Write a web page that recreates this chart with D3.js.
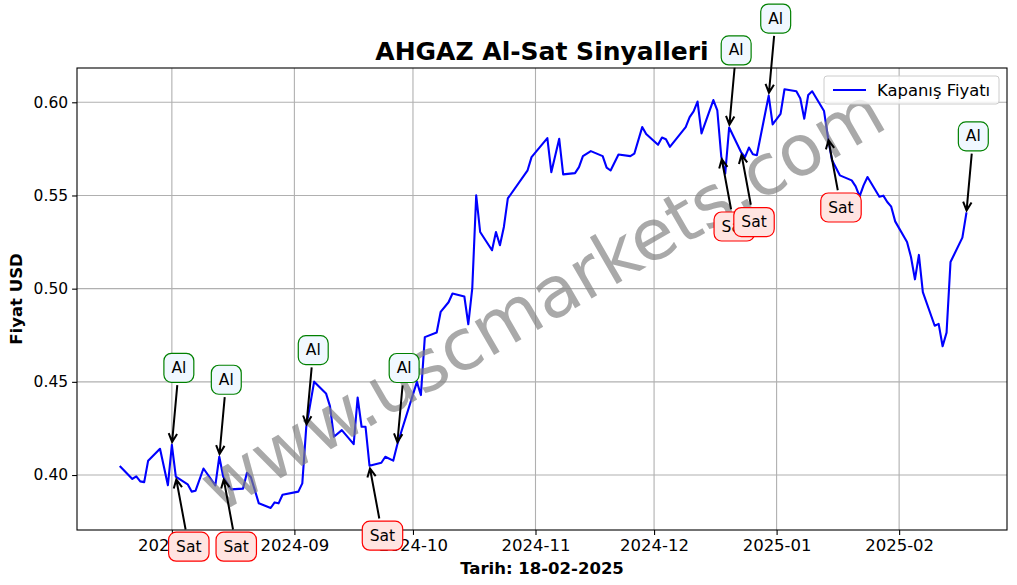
<!DOCTYPE html>
<html>
<head>
<meta charset="utf-8">
<script src="https://cdn.jsdelivr.net/npm/d3@7"></script>
<style>
  html, body { margin: 0; padding: 0; background: #fff; }
  svg { display: block; font-family: "DejaVu Sans", sans-serif; }
</style>
</head>
<body>
<svg id="chart" width="1017" height="585"></svg>
<script>
// ---------------- data ----------------
const dates = [
  "2024-07-19","2024-07-22","2024-07-23","2024-07-24","2024-07-25","2024-07-26","2024-07-29","2024-07-31",
  "2024-08-01","2024-08-02","2024-08-05","2024-08-06","2024-08-07","2024-08-09","2024-08-12","2024-08-13","2024-08-14","2024-08-16","2024-08-19","2024-08-20","2024-08-21","2024-08-23","2024-08-26","2024-08-27","2024-08-28","2024-08-29",
  "2024-09-02","2024-09-03","2024-09-04","2024-09-06","2024-09-09","2024-09-10","2024-09-11","2024-09-13","2024-09-16","2024-09-17","2024-09-18","2024-09-19","2024-09-20","2024-09-23","2024-09-24","2024-09-26","2024-09-27",
  "2024-10-02","2024-10-03","2024-10-04","2024-10-07","2024-10-08","2024-10-10","2024-10-11","2024-10-14","2024-10-15","2024-10-16","2024-10-17","2024-10-18","2024-10-21","2024-10-22","2024-10-23","2024-10-24","2024-10-25","2024-10-30","2024-10-31",
  "2024-11-04","2024-11-05","2024-11-07","2024-11-08","2024-11-11","2024-11-12","2024-11-13","2024-11-15","2024-11-18","2024-11-19","2024-11-20","2024-11-22","2024-11-25","2024-11-26","2024-11-28","2024-11-29",
  "2024-12-02","2024-12-03","2024-12-04","2024-12-05","2024-12-09","2024-12-10","2024-12-11","2024-12-12","2024-12-13","2024-12-16","2024-12-17","2024-12-18","2024-12-19","2024-12-20","2024-12-23","2024-12-24","2024-12-25","2024-12-26","2024-12-27","2024-12-30","2024-12-31",
  "2025-01-02","2025-01-03","2025-01-06","2025-01-07","2025-01-08","2025-01-09","2025-01-10","2025-01-13","2025-01-14","2025-01-15","2025-01-17","2025-01-20","2025-01-21","2025-01-22","2025-01-23","2025-01-24","2025-01-27","2025-01-28","2025-01-29","2025-01-30","2025-01-31",
  "2025-02-03","2025-02-04","2025-02-05","2025-02-06","2025-02-07","2025-02-10","2025-02-11","2025-02-12","2025-02-13","2025-02-14","2025-02-17","2025-02-18"
];
const closes = [
  0.4044,0.3979,0.3993,0.3966,0.3962,0.4077,0.4141,0.3945,
  0.4162,0.3991,0.3950,0.3911,0.3916,0.4035,0.3945,0.4098,0.3991,0.3923,0.3927,0.4012,0.3988,0.3848,0.3823,0.3853,0.3848,0.3894,
  0.3911,0.3955,0.4257,0.4501,0.4438,0.4370,0.4205,0.4241,0.4166,0.4416,0.4259,0.4259,0.4050,0.4066,0.4098,0.4077,0.4161,
  0.4500,0.4429,0.4740,0.4765,0.4875,0.4927,0.4974,0.4958,0.4809,0.5001,0.5501,0.5304,0.5206,0.5304,0.5233,0.5331,0.5484,0.5635,0.5706,
  0.5808,0.5625,0.5804,0.5613,0.5620,0.5652,0.5711,0.5738,0.5711,0.5649,0.5634,0.5720,0.5711,0.5724,0.5867,0.5830,
  0.5772,0.5811,0.5802,0.5761,0.5867,0.5920,0.5951,0.6004,0.5833,0.6012,0.5956,0.5709,0.5617,0.5865,0.5733,0.5706,0.5757,0.5721,0.5716,0.6036,0.5881,
  0.5938,0.6070,0.6059,0.6020,0.5912,0.6039,0.6059,0.5953,0.5811,0.5690,0.5608,0.5581,0.5549,0.5495,0.5554,0.5599,0.5493,0.5499,0.5465,0.5440,0.5361,
  0.5250,0.5170,0.5050,0.5181,0.4981,0.4801,0.4811,0.4691,0.4764,0.5143,0.5274,0.5404
];
const buyDates  = ["2024-08-01","2024-08-13","2024-09-04","2024-09-27","2024-12-20","2024-12-30","2025-02-18"];
const sellDates = ["2024-08-02","2024-08-14","2024-09-20","2024-12-18","2024-12-23","2025-01-14"];
const yTicks = [0.40, 0.45, 0.50, 0.55, 0.60];
const xTickMonths = ["2024-08-01","2024-09-01","2024-10-01","2024-11-01","2024-12-01","2025-01-01","2025-02-01"];
const xLimits = ["2024-07-08T00:00","2025-02-28T07:00"];
const yLimits = [0.3705, 0.6184];
const titleText = "AHGAZ Al-Sat Sinyalleri";
const xLabelText = "Tarih: 18-02-2025";
const yLabelText = "Fiyat USD";
const legendText = "Kapanış Fiyatı";
const watermarkText = "www.uscmarkets.com";
const buyLabel = "Al", sellLabel = "Sat";

// ---------------- layout ----------------
const L = 77, R = 1007, T = 68, B = 530;
const parseD = d3.utcParse("%Y-%m-%d");
const parseDT = d3.utcParse("%Y-%m-%dT%H:%M");
const series = dates.map((d, i) => ({ date: parseD(d), value: closes[i] }));
const byDate = new Map(dates.map((d, i) => [d, closes[i]]));

const x = d3.scaleUtc().domain(xLimits.map(parseDT)).range([L, R]);
const y = d3.scaleLinear().domain(yLimits).range([B, T]);

const svg = d3.select("#chart");

// grid
const grid = svg.append("g");
grid.selectAll("line.vx").data(xTickMonths.map(parseD)).join("line")
  .attr("x1", d => x(d)).attr("x2", d => x(d)).attr("y1", T).attr("y2", B)
  .attr("stroke", "#b0b0b0").attr("stroke-width", 1.1);
grid.selectAll("line.hy").data(yTicks).join("line")
  .attr("x1", L).attr("x2", R).attr("y1", d => y(d)).attr("y2", d => y(d))
  .attr("stroke", "#b0b0b0").attr("stroke-width", 1.1);

// price line
const line = d3.line().x(d => x(d.date)).y(d => y(d.value));
svg.append("path").datum(series).attr("d", line)
  .attr("fill", "none").attr("stroke", "#0000ff").attr("stroke-width", 2.1)
  .attr("stroke-linejoin", "round").attr("stroke-linecap", "square");

// axes
const xAxis = d3.axisBottom(x).tickValues(xTickMonths.map(parseD))
  .tickFormat(d3.utcFormat("%Y-%m")).tickSize(4.9).tickPadding(4);
const yAxis = d3.axisLeft(y).tickValues(yTicks)
  .tickFormat(d3.format(".2f")).tickSize(4.9).tickPadding(4);
const gx = svg.append("g").attr("transform", `translate(0,${B})`).call(xAxis);
const gy = svg.append("g").attr("transform", `translate(${L},0)`).call(yAxis);
[gx, gy].forEach(g => {
  g.select(".domain").remove();
  g.selectAll(".tick line").attr("stroke", "#000").attr("stroke-width", 1.1);
  g.selectAll(".tick text").attr("fill", "#000").style("font-family", "DejaVu Sans");
});
gx.selectAll(".tick text").style("font-size", "16.5px");
gy.selectAll(".tick text").style("font-size", "15.5px");

// spines
svg.append("rect").attr("x", L).attr("y", T).attr("width", R - L).attr("height", B - T)
  .attr("fill", "none").attr("stroke", "#000").attr("stroke-width", 1.1);

// title & labels
svg.append("text").attr("x", (L + R) / 2).attr("y", 60).attr("text-anchor", "middle")
  .style("font-size", "25px").style("font-weight", "bold").text(titleText);
svg.append("text").attr("x", (L + R) / 2).attr("y", 574).attr("text-anchor", "middle")
  .style("font-size", "16.5px").style("font-weight", "bold").text(xLabelText);
svg.append("text").attr("transform", `translate(22,${(T + B) / 2}) rotate(-90)`)
  .attr("text-anchor", "middle").style("font-size", "16.5px").style("font-weight", "bold").text(yLabelText);

// watermark
svg.append("text")
  .attr("transform", `translate(${(L + R) / 2},${(T + B) / 2}) rotate(-30)`)
  .attr("text-anchor", "middle").attr("dominant-baseline", "central")
  .style("font-size", "71px").attr("fill", "#808080").attr("fill-opacity", 0.68)
  .text(watermarkText);

// legend
const lg = svg.append("g");
lg.append("rect").attr("x", 824).attr("y", 76).attr("width", 175).attr("height", 28).attr("rx", 3)
  .attr("fill", "#fff").attr("fill-opacity", 0.8).attr("stroke", "#cccccc").attr("stroke-width", 1);
lg.append("line").attr("x1", 833).attr("x2", 866).attr("y1", 90).attr("y2", 90)
  .attr("stroke", "#0000ff").attr("stroke-width", 2.1);
lg.append("text").attr("x", 877).attr("y", 90).attr("dominant-baseline", "central")
  .style("font-size", "16.4px").text(legendText);

// annotations
const ann = svg.append("g");
function annotate(dateStr, label, dx, dy, fill, stroke) {
  const px = x(parseD(dateStr)), py = y(byDate.get(dateStr));
  const cx = px + dx, cy = py + dy;
  const g = ann.append("g");
  const txt = g.append("text").attr("x", cx).attr("y", cy)
    .attr("text-anchor", "middle").attr("dominant-baseline", "central")
    .style("font-size", "15.5px").text(label);
  const tw = txt.node().getComputedTextLength();
  const bw = tw + 15, bh = 29;
  // arrow
  const vx = px - cx, vy = py - cy, len = Math.hypot(vx, vy);
  const ux = vx / len, uy = vy / len;
  const tEdge = Math.min((bw / 2) / Math.abs(ux || 1e-9), (bh / 2) / Math.abs(uy || 1e-9));
  const sx = cx + ux * (tEdge + 2.8), sy = cy + uy * (tEdge + 2.8);
  const ex = px - ux * 2.8, ey = py - uy * 2.8;
  const hl = 8.5, hw = 4.2;
  const bx = ex - ux * hl, by = ey - uy * hl;
  const nx = -uy, ny = ux;
  g.insert("path", "text").attr("d", `M${sx},${sy}L${ex},${ey}M${bx + nx * hw},${by + ny * hw}L${ex},${ey}L${bx - nx * hw},${by - ny * hw}`)
    .attr("fill", "none").attr("stroke", "#000").attr("stroke-width", 2);
  g.insert("rect", "text").attr("x", cx - bw / 2).attr("y", cy - bh / 2)
    .attr("width", bw).attr("height", bh).attr("rx", 7.5).attr("ry", 7.5)
    .attr("fill", fill).attr("stroke", stroke).attr("stroke-width", 1.2);
}
buyDates.forEach(d => annotate(d, buyLabel, 7, -77, "#f0f8ff", "#008000"));
sellDates.forEach(d => annotate(d, sellLabel, 13, 70, "#ffe4e1", "#ff0000"));
</script>
</body>
</html>
